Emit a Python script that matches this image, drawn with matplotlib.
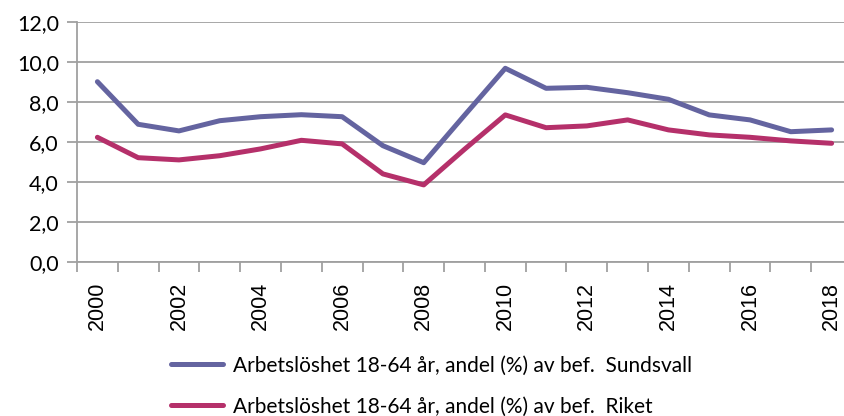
import matplotlib
matplotlib.use("Agg")
import matplotlib.pyplot as plt

years = [str(y) for y in range(2000, 2019)]
sundsvall = [9.03, 6.9, 6.57, 7.08, 7.28, 7.38, 7.28, 5.83, 4.98, 7.35, 9.7,
             8.7, 8.75, 8.48, 8.15, 7.37, 7.12, 6.53, 6.62]
riket = [6.25, 5.23, 5.12, 5.33, 5.67, 6.1, 5.92, 4.42, 3.87, 5.65, 7.37,
         6.73, 6.82, 7.12, 6.62, 6.37, 6.25, 6.07, 5.95]
labels = ["Arbetslöshet 18-64 år, andel (%) av bef.  Sundsvall",
          "Arbetslöshet 18-64 år, andel (%) av bef.  Riket"]
yticks = [0, 2, 4, 6, 8, 10, 12]

fig = plt.figure(figsize=(8.45, 4.16), dpi=100)
ax = fig.add_axes([77/845, 1-262.3/416, 775/845, 240/416])

x = list(range(len(years)))
l1, = ax.plot(x, sundsvall, color="#6464a0", lw=3.6, solid_capstyle="round")
l2, = ax.plot(x, riket, color="#b5306a", lw=3.6, solid_capstyle="round")

ax.set_xlim(-0.5, len(years) - 0.5)
ax.set_ylim(0, 12)
ax.set_yticks(yticks)
ax.set_yticklabels([f"{v:.1f}".replace(".", ",") for v in yticks],
                   fontsize=15.5, family="Lato")
ax.yaxis.grid(True, color="#a0a0a0", lw=1.3)
ax.set_axisbelow(True)
ax.tick_params(axis="y", length=7, color="#a0a0a0", width=1.3, pad=6)

ax.set_xticks([i - 0.5 for i in range(len(years) + 1)])
ax.set_xticklabels([])
ax.set_xticks(x[::2], minor=True)
ax.set_xticklabels(years[::2], minor=True, rotation=90, fontsize=15.5,
                   family="Liberation Sans")
ax.tick_params(axis="x", which="major", length=7, color="#a0a0a0", width=1.3)
ax.tick_params(axis="x", which="minor", length=0, pad=14)

for s in ["top", "right"]:
    ax.spines[s].set_visible(False)
for s in ["left", "bottom"]:
    ax.spines[s].set_color("#a0a0a0")
    ax.spines[s].set_linewidth(1.3)

fig.legend([l1, l2], labels, loc="upper left", bbox_to_anchor=(154/845, 1-339/416),
           frameon=False, prop={"family": "Lato", "size": 15},
           handlelength=2.5, labelspacing=1.0, handletextpad=0.5,
           borderpad=0.3)

fig.savefig("out.png", dpi=100)
